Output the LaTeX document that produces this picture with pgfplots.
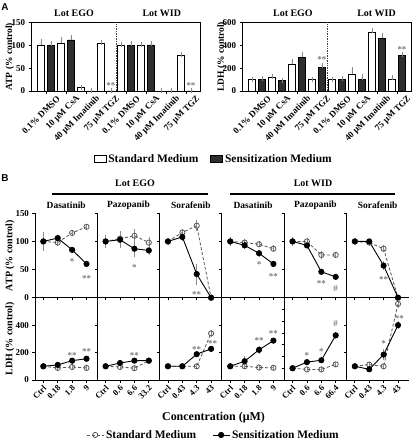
\documentclass[border=0pt]{standalone}
\usepackage{fontspec}
\setmainfont{Liberation Serif}
\newfontfamily\lsans{Liberation Sans}
\usepackage{pgfplots}
\usepackage{pgfplotstable}
\pgfplotsset{compat=1.18}

\definecolor{darkbar}{HTML}{2E2E2E}
\definecolor{errgray}{HTML}{8A8A8A}
\definecolor{stargray}{HTML}{7A7A7A}
\definecolor{stdgray}{HTML}{555555}

% ---------- Panel A ----------
\pgfplotstableread{
x atp atpe ldh ldhe
0 100 8 99 5
1 105 7 120 8
2 7 1 236 26
3 105 1 99 5
4 100 2 99 4
5 99 3 146 38
6 0 0 510 23
7 78 1 99 17
}\stdA
\pgfplotstableread{
x atp atpe ldh ldhe
0 100 3 100 8
1 112 6 90 4
2 0 0 294 30
3 0 0 204 23
4 100 3 99 8
5 101 2 99 26
6 0 0 460 23
7 0 0 315 9
}\sensA

% ---------- Panel B : ATP ----------
\pgfplotstableread{
x s se m me
0 100 13 100 13
1 98 3 106 2
2 115 2 85 2
3 126 2 60 2
}\atpEGOdas
\pgfplotstableread{
x s se m me
0 100 8 100 8
1 105 10 103 12
2 110 8 87 12
3 98 6 84 5
}\atpEGOpaz
\pgfplotstableread{
x s se m me
0 100 2 100 2
1 116 3 108 3
2 128 6 42 15
3 0 0 0 0
}\atpEGOsor
\pgfplotstableread{
x s se m me
0 100 5 100 5
1 98 3 93 3
2 95 2 79 3
3 87 3 60 2
}\atpWIDdas
\pgfplotstableread{
x s se m me
0 100 5 100 5
1 100 2 93 3
2 76 3 46 2
3 76 2 37 2
}\atpWIDpaz
\pgfplotstableread{
x s se m me
0 100 2 100 2
1 98 2 100 2
2 87 3 57 5
3 0 0 0 0
}\atpWIDsor
% ---------- Panel B : LDH ----------
\pgfplotstableread{
x s se m me
0 100 5 100 5
1 88 4 110 5
2 95 4 141 8
3 88 4 155 6
}\ldhEGOdas
\pgfplotstableread{
x s se m me
0 100 5 100 5
1 95 4 124 6
2 86 4 141 6
3 141 8 141 8
}\ldhEGOpaz
\pgfplotstableread{
x s se m me
0 100 3 100 3
1 100 3 100 3
2 100 4 188 8
3 340 10 227 8
}\ldhEGOsor
\pgfplotstableread{
x s se m me
0 100 4 100 4
1 100 4 137 20
2 91 4 220 15
3 89 4 287 8
}\ldhWIDdas
\pgfplotstableread{
x s se m me
0 100 4 100 4
1 90 4 152 8
2 90 4 168 8
3 133 6 380 12
}\ldhWIDpaz
\pgfplotstableread{
x s se m me
0 100 3 100 3
1 112 5 78 5
2 100 5 185 25
3 555 15 400 15
}\ldhWIDsor

\pgfplotsset{
  /pgf/number format/assume math mode=true,
  aax/.style={scale only axis, anchor=south west, width=168.5bp, height=68.5bp,
    xmin=-0.71, xmax=7.71, ymin=0, clip=false,
    xtick={0,...,7}, tick pos=left, tick align=outside, major tick length=3bp,
    tick style={black, line width=0.8bp}, axis line style={line width=0.9bp},
    xticklabels={0.1\% DMSO, 10 μM CsA, 40 μM Imatinib, 75 μM TGZ, 0.1\% DMSO, 10 μM CsA, 40 μM Imatinib, 75 μM TGZ},
    yticklabel style={font=\bfseries\fontsize{9}{9}\selectfont},
    xticklabel style={font=\bfseries\fontsize{9}{9}\selectfont, xshift=15bp, yshift=-1bp, rotate=45, anchor=east},
    ylabel style={font=\bfseries\fontsize{9.5}{10}\selectfont, anchor=center},
    ybar, bar width=7bp},
  openbar/.style={draw=black, fill=white, line width=0.7bp, bar shift=-5bp,
    legend image code/.code={\draw[##1, bar shift=0pt] (0bp,-3.5bp) rectangle (12bp,3.5bp);},
    error bars/.cd, y dir=plus, y explicit, error bar style={errgray, line width=0.7bp},
    error mark options={errgray, mark size=2.5bp, line width=0.7bp}},
  fullbar/.style={draw=black, fill=darkbar, line width=0.7bp, bar shift=5bp,
    legend image code/.code={\draw[##1, bar shift=0pt] (0bp,-3.5bp) rectangle (12bp,3.5bp);},
    error bars/.cd, y dir=plus, y explicit, error bar style={errgray, line width=0.7bp},
    error mark options={errgray, mark size=2.5bp, line width=0.7bp}},
  bax/.style={scale only axis, anchor=south west, width=62.3bp, xmin=-0.58, xmax=3.75,
    axis x line*=bottom, axis y line*=left, clip=false, xtick={0,1,2,3},
    tick align=outside, major tick length=2.5bp, tick style={black, line width=0.7bp},
    axis line style={line width=0.9bp},
    yticklabel style={font=\bfseries\fontsize{9}{9}\selectfont},
    xticklabel style={font=\bfseries\fontsize{8.5}{9}\selectfont, xshift=4bp, yshift=-2bp, rotate=45, anchor=east},
    ylabel style={font=\bfseries\fontsize{10}{10}\selectfont, anchor=center}},
  arow/.style={height=84.4bp, ymin=0, ymax=150, ytick={0,50,100,150}, xticklabels={}},
  lrow/.style={height=82.3bp, ymin=0, ymax=600, ytick={0,200,400}},
  noyl/.style={yticklabels={}},
  stdp/.style={stdgray, densely dashed, line width=0.8bp, mark=o, mark size=2.6bp,
    mark options={solid, stdgray, line width=0.8bp},
    error bars/.cd, y dir=both, y explicit, error bar style={solid, errgray, line width=0.6bp},
    error mark options={errgray, mark size=2bp, line width=0.6bp}},
  sensp/.style={black, solid, line width=0.9bp, mark=*, mark size=2.6bp, mark options={black},
    error bars/.cd, y dir=both, y explicit, error bar style={solid, errgray, line width=0.6bp},
    error mark options={errgray, mark size=2bp, line width=0.6bp}},
}
\tikzset{st/.style={font=\bfseries\fontsize{9}{9}\selectfont, text=stargray, inner sep=0pt, yshift=-2bp},
  lot/.style={font=\bfseries\fontsize{10}{10}\selectfont},
  drug/.style={font=\bfseries\fontsize{9.5}{10}\selectfont}}

\begin{document}
\begin{tikzpicture}
\useasboundingbox (0,0) rectangle (412bp,440bp);

% ======== Panel A left: ATP ========
\begin{axis}[aax, at={(31.7bp,349bp)}, ymax=150, ytick={0,50,100,150},
  ylabel={ATP (\% control)}, ylabel style={at={(axis description cs:-0.13,0.5)}},
  legend columns=2,
  legend style={at={(axis description cs:1.080,-0.993)}, anchor=center, draw=none, fill=none,
    font=\bfseries\fontsize{11.5}{12}\selectfont, /tikz/every even column/.append style={column sep=10bp}}]
\addplot[openbar] table[x=x, y=atp, y error=atpe]{\stdA};
\addlegendentry{Standard Medium}
\addplot[fullbar] table[x=x, y=atp, y error=atpe]{\sensA};
\addlegendentry{Sensitization Medium}
\draw[densely dotted, line width=0.7bp, black!75] (axis cs:3.5,0) -- (axis cs:3.5,150);
\node[st] at (axis cs:3.25,17) {**};
\node[st] at (axis cs:7.25,17) {**};
\node[lot] at (axis description cs:0.251,1.139) {Lot EGO};
\node[lot] at (axis description cs:0.772,1.139) {Lot WID};
\end{axis}

% ======== Panel A right: LDH ========
\begin{axis}[aax, at={(242.7bp,349bp)}, ymax=600, ytick={0,200,400,600},
  ylabel={LDH (\% control)}, ylabel style={at={(axis description cs:-0.125,0.5)}}]
\addplot[openbar] table[x=x, y=ldh, y error=ldhe]{\stdA};
\addplot[fullbar] table[x=x, y=ldh, y error=ldhe]{\sensA};
\draw[densely dotted, line width=0.7bp, black!75] (axis cs:3.5,0) -- (axis cs:3.5,600);
\node[st] at (axis cs:3.25,292) {**};
\node[st] at (axis cs:7.25,379) {**};
\node[lot] at (axis description cs:0.298,1.139) {Lot EGO};
\node[lot] at (axis description cs:0.794,1.139) {Lot WID};
\end{axis}

% ======== Panel B: ATP row ========
\begin{axis}[bax, arow, at={(35bp,142.3bp)},
  ylabel={ATP (\% control)}, ylabel style={at={(axis description cs:-0.40,0.5)}}]
\addplot[stdp] table[x=x, y=s, y error=se]{\atpEGOdas};
\addplot[sensp] table[x=x, y=m, y error=me]{\atpEGOdas};
\node[st] at (axis cs:2,67) {*};
\node[st] at (axis cs:3,38) {**};
\end{axis}
\begin{axis}[bax, arow, noyl, at={(97.3bp,142.3bp)}]
\addplot[stdp] table[x=x, y=s, y error=se]{\atpEGOpaz};
\addplot[sensp] table[x=x, y=m, y error=me]{\atpEGOpaz};
\node[st] at (axis cs:2,58) {*};
\end{axis}
\begin{axis}[bax, arow, noyl, at={(159.6bp,142.3bp)}]
\addplot[stdp] table[x=x, y=s, y error=se]{\atpEGOsor};
\addplot[sensp] table[x=x, y=m, y error=me]{\atpEGOsor};
\node[st] at (axis cs:2,10) {**};
\end{axis}
\begin{axis}[bax, arow, noyl, at={(221.9bp,142.3bp)}]
\addplot[stdp] table[x=x, y=s, y error=se]{\atpWIDdas};
\addplot[sensp] table[x=x, y=m, y error=me]{\atpWIDdas};
\node[st] at (axis cs:2,62) {*};
\node[st] at (axis cs:3,42) {**};
\end{axis}
\begin{axis}[bax, arow, noyl, at={(284.2bp,142.3bp)}]
\addplot[stdp] table[x=x, y=s, y error=se]{\atpWIDpaz};
\addplot[sensp] table[x=x, y=m, y error=me]{\atpWIDpaz};
\node[st] at (axis cs:2,28) {**};
\node[st] at (axis cs:3,20) {\#};
\end{axis}
\begin{axis}[bax, arow, noyl, at={(346.5bp,142.3bp)}]
\addplot[stdp] table[x=x, y=s, y error=se]{\atpWIDsor};
\addplot[sensp] table[x=x, y=m, y error=me]{\atpWIDsor};
\node[st] at (axis cs:2,55) {*};
\node[st] at (axis cs:2,36) {**};
\end{axis}

% ======== Panel B: LDH row ========
\begin{axis}[bax, lrow, at={(35bp,60bp)}, xticklabels={Ctrl,0.18,1.8,9},
  ylabel={LDH (\% control)}, ylabel style={at={(axis description cs:-0.40,0.5)}},
  legend columns=2,
  legend style={at={(axis description cs:2.865,-0.668)}, anchor=center, draw=none, fill=none,
    font=\bfseries\fontsize{11.5}{12}\selectfont, /tikz/every even column/.append style={column sep=14bp}}]
\addplot[stdp] table[x=x, y=s, y error=se]{\ldhEGOdas};
\addlegendentry{Standard Medium}
\addplot[sensp] table[x=x, y=m, y error=me]{\ldhEGOdas};
\addlegendentry{Sensitization Medium}
\node[st] at (axis cs:2,195) {**};
\node[st] at (axis cs:3,224) {**};
\end{axis}
\begin{axis}[bax, lrow, noyl, at={(97.3bp,60bp)}, xticklabels={Ctrl,0.6,6.6,33.2}]
\addplot[stdp] table[x=x, y=s, y error=se]{\ldhEGOpaz};
\addplot[sensp] table[x=x, y=m, y error=me]{\ldhEGOpaz};
\node[st] at (axis cs:2,195) {**};
\end{axis}
\begin{axis}[bax, lrow, noyl, at={(159.6bp,60bp)}, xticklabels={Ctrl,0.43,4.3,43}]
\addplot[stdp] table[x=x, y=s, y error=se]{\ldhEGOsor};
\addplot[sensp] table[x=x, y=m, y error=me]{\ldhEGOsor};
\node[st] at (axis cs:2,240) {**};
\node[st] at (axis cs:3.1,277) {**};
\end{axis}
\begin{axis}[bax, lrow, noyl, at={(221.9bp,60bp)}, xticklabels={Ctrl,0.18,1.8,9}]
\addplot[stdp] table[x=x, y=s, y error=se]{\ldhWIDdas};
\addplot[sensp] table[x=x, y=m, y error=me]{\ldhWIDdas};
\node[st] at (axis cs:2,299) {**};
\node[st] at (axis cs:3,350) {**};
\end{axis}
\begin{axis}[bax, lrow, noyl, at={(284.2bp,60bp)}, ymax=700, ytick={0,100,...,600}, xticklabels={Ctrl,0.6,6.6,66.4}]
\addplot[stdp] table[x=x, y=s, y error=se]{\ldhWIDpaz};
\addplot[sensp] table[x=x, y=m, y error=me]{\ldhWIDpaz};
\node[st] at (axis cs:1,221) {*};
\node[st] at (axis cs:2,255) {*};
\node[st] at (axis cs:3,496) {\#};
\end{axis}
\begin{axis}[bax, lrow, noyl, at={(346.5bp,60bp)}, xticklabels={Ctrl,0.43,4.3,43}]
\addplot[stdp] table[x=x, y=s, y error=se]{\ldhWIDsor};
\addplot[sensp] table[x=x, y=m, y error=me]{\ldhWIDsor};
\node[st] at (axis cs:2,279) {*};
\node[st] at (axis cs:3.1,461) {**};
\end{axis}

% ======== headings ========
\node[font=\lsans\bfseries\fontsize{10}{10}\selectfont] at (5bp,433bp) {A};
\node[font=\lsans\bfseries\fontsize{10}{10}\selectfont] at (5bp,262bp) {B};
\node[lot] at (135bp,257bp) {Lot EGO};
\node[lot] at (313bp,257bp) {Lot WID};
\draw[line width=1.3bp] (51.7bp,246bp) -- (208.3bp,246bp);
\draw[line width=1.3bp] (230bp,246bp) -- (395bp,246bp);
\node[drug] at (66.2bp,235bp) {Dasatinib};
\node[drug] at (128.5bp,235bp) {Pazopanib};
\node[drug] at (190.8bp,235bp) {Sorafenib};
\node[drug] at (253.1bp,235bp) {Dasatinib};
\node[drug] at (315.4bp,235bp) {Pazopanib};
\node[drug] at (377.7bp,235bp) {Sorafenib};
\node[font=\bfseries\fontsize{12}{12}\selectfont] at (213.5bp,22bp) {Concentration (μM)};
\end{tikzpicture}
\end{document}
